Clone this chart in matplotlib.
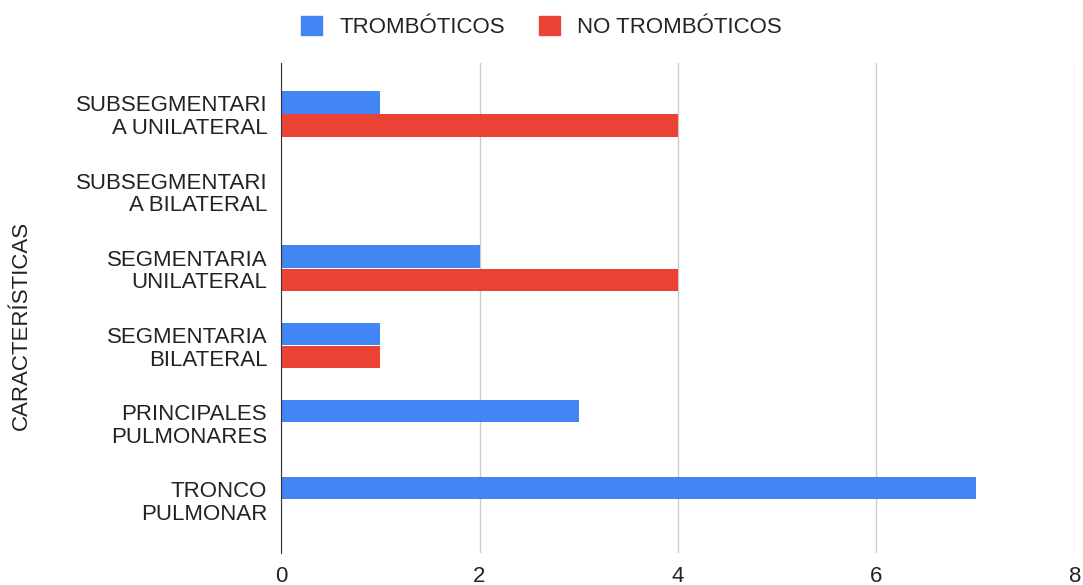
import matplotlib.pyplot as plt
from matplotlib.patches import Patch

plt.rcParams['font.family'] = ['Liberation Sans', 'DejaVu Sans']

# Data
categorias = [
    'SUBSEGMENTARI\nA UNILATERAL',
    'SUBSEGMENTARI\nA BILATERAL',
    'SEGMENTARIA\nUNILATERAL',
    'SEGMENTARIA\nBILATERAL',
    'PRINCIPALES\nPULMONARES',
    'TRONCO\nPULMONAR',
]
tromboticos = [1, 0, 2, 1, 3, 7]
no_tromboticos = [4, 0, 4, 1, 0, 0]
series_names = ['TROMBÓTICOS', 'NO TROMBÓTICOS']
x_ticks = [0, 2, 4, 6, 8]

azul = '#4285F4'
rojo = '#EA4335'
fs = 16

fig = plt.figure(figsize=(10.83, 5.85), dpi=100)
ax = fig.add_axes([0.2595, 0.0547, 0.7331, 0.8376])

pos = list(range(len(categorias)))
h = 0.29
ax.barh([p - 0.15 for p in pos], tromboticos, height=h, color=azul, zorder=3)
ax.barh([p + 0.15 for p in pos], no_tromboticos, height=h, color=rojo, zorder=3)

ax.set_ylim(5.69, -0.66)
ax.set_xlim(0, 8)
ax.set_xticks(x_ticks)
ax.set_yticks(pos)
ax.set_yticklabels(categorias, fontsize=fs, color='#222222', linespacing=1.1)
ax.tick_params(axis='x', length=0, pad=9, labelsize=fs, labelcolor='#222222')
ax.tick_params(axis='y', length=0, pad=10)
ax.grid(axis='x', color='#cccccc', linewidth=1, zorder=0)
for s in ['top', 'right', 'bottom']:
    ax.spines[s].set_visible(False)
ax.spines['left'].set_color('#333333')
ax.spines['left'].set_zorder(4)

fig.text(0.0195, 0.443, 'CARACTERÍSTICAS', rotation=90, ha='center', va='center',
         fontsize=fs, color='#222222')

handles = [Patch(color=azul), Patch(color=rojo)]
fig.legend(handles, series_names, loc='center', bbox_to_anchor=(0.5, 0.954), ncol=2,
           frameon=False, fontsize=fs, handlelength=0.95, handleheight=0.95,
           columnspacing=1.5, handletextpad=0.8, labelcolor='#222222')

fig.savefig('out.png', dpi=100)
